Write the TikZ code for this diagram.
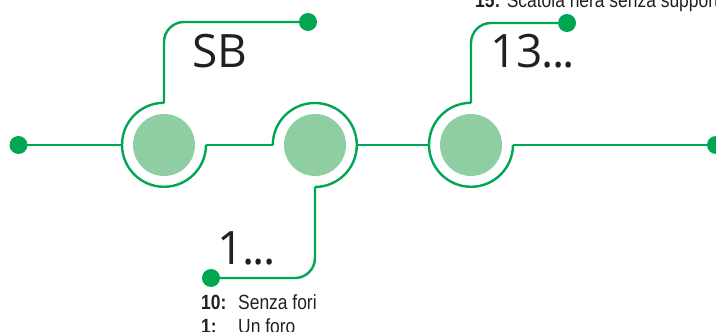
\documentclass[tikz,border=0pt]{standalone}
\usepackage{fontspec}
\newfontfamily\bigfont{Open Sans}
\newfontfamily\condfont[FakeStretch=0.85]{Liberation Sans}
\definecolor{lgreen}{HTML}{00A651}
\definecolor{pgreen}{HTML}{8FCEA3}
\definecolor{ink}{HTML}{231F20}
\begin{document}
\begin{tikzpicture}[x=1pt,y=1pt,
  wire/.style={draw=lgreen,line width=2.4pt},
  dot/.style={circle,fill=lgreen,inner sep=0pt,minimum size=18pt},
  core/.style={circle,fill=pgreen,inner sep=0pt,minimum size=62pt},
  ringzone/.style={circle,inner sep=0pt,minimum size=84pt},
  bigtxt/.style={inner sep=0pt,anchor=base west,text=ink,font=\bigfont\fontsize{46}{50}\selectfont},
  captxt/.style={inner sep=0pt,anchor=base west,text=ink,font=\condfont\fontsize{20.5}{24}\selectfont}]
\useasboundingbox (0,0) rectangle (716,332);
% cores and ring zones
\node[core] (c1) at (164,187) {};
\node[core] (c2) at (315,187) {};
\node[core] (c3) at (471,187) {};
\node[ringzone] (r1) at (164,187) {};
\node[ringzone] (r2) at (315,187) {};
\node[ringzone] (r3) at (471,187) {};
% end dots
\node[dot] (dL) at (18.5,187) {};
\node[dot] (dR) at (716,187) {};
\node[dot] (d1) at (308,310) {};
\node[dot] (d2) at (211,54) {};
\node[dot] (d3) at (567,309) {};
% rings
\draw[wire] (r1.north) arc[start angle=90,end angle=360,radius=42pt];
\draw[wire] (r2.west) arc[start angle=180,end angle=-90,radius=42pt];
\draw[wire] (r3.north) arc[start angle=90,end angle=360,radius=42pt];
% main line
\draw[wire] (dL.center) -- (r1.west);
\draw[wire] (r1.east) -- (r2.west);
\draw[wire] (r2.east) -- (r3.west);
\draw[wire] (r3.east) -- (dR.center);
% branches
\draw[wire,rounded corners=20pt] (r1.north) |- (d1.center);
\draw[wire,rounded corners=20pt] (r2.south) |- (d2.center);
\draw[wire,rounded corners=20pt] (r3.north) |- (d3.center);
% labels
\node[bigtxt] (tSB) at (192,264) {SB};
\node[bigtxt] (t13) at (490,264) {13\kern-1.5pt.\kern-1.5pt.\kern-1.5pt.};
\node[bigtxt] (t1) at (217,67) {1\kern-1.5pt.\kern-1.5pt.\kern-1.5pt.};
\node[captxt] (cap15) at (475,324.7) {\textbf{15:} Scatola nera senza support};
\node[captxt] (k10) at (201,22.5) {\textbf{10:}};
\node[captxt] (v10) at (238,22.5) {Senza fori};
\node[captxt] (k1) at (201,-1.5) {\textbf{1:}};
\node[captxt] (v1) at (238,-1.5) {Un foro};
\end{tikzpicture}
\end{document}
